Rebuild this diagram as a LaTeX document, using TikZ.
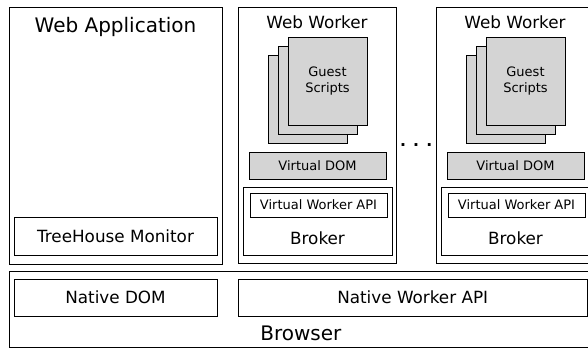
\documentclass[tikz,border=0pt]{standalone}
\usepackage{fontspec}
\setmainfont{DejaVu Sans}
\usepackage{tikz}
\usetikzlibrary{positioning}

\begin{document}
\begin{tikzpicture}[x=1pt,y=-1pt]
                \tikzset{box/.style = {draw, line width=0.9pt, inner sep=0pt}}
                \tikzset{page/.style = {box, fill=black!17, minimum width=79, minimum height=88}}
                \tikzset{big/.style = {font=\fontsize{20}{24}\selectfont}}
                \tikzset{mid/.style = {font=\fontsize{16.8}{20}\selectfont}}
                \tikzset{small/.style = {font=\fontsize{13}{16}\selectfont}}
                \tikzset{lbl/.style = {inner sep=0pt, anchor=base}}

                \useasboundingbox (0,0) rectangle (588,349);

                % web application
                \node[box, minimum width=213, minimum height=257] (webapp) at (115.5,135.5) {};
                \node[lbl, big] (webapptitle) at (115.5,32) {Web Application};
                \node[box, mid, minimum width=203, minimum height=38] (monitor) at (115.5,236) {TreeHouse Monitor};

                % first worker
                \node[box, minimum width=158, minimum height=256] (workerA) at (317,135) {};
                \node[lbl, mid] (workerAtitle) at (317,28.5) {Web Worker};
                \node[page] (pageAc) at (307.5,99.5) {};
                \node[page] (pageAb) at (318,90.5) {};
                \node[page, small, align=center] (pageAa) at (327.5,81) {Guest\\Scripts};
                \node[box, small, fill=black!17, minimum width=137, minimum height=27] (vdomA) at (317.5,165.5) {Virtual DOM};
                \node[box, minimum width=149, minimum height=68] (brokerA) at (317.5,221) {};
                \node[box, small, minimum width=137, minimum height=24] (vwaA) at (318.5,205) {Virtual Worker API};
                \node[lbl, mid] (brokerAtitle) at (317.5,244) {Broker};

                \node[lbl, font=\fontsize{15.6}{18}\selectfont\bfseries] (dots) at (416.2,146.7) {. . .};

                % second worker
                \node[box, minimum width=158, minimum height=256] (workerB) at (515,135) {};
                \node[lbl, mid] (workerBtitle) at (515,28.5) {Web Worker};
                \node[page] (pageBc) at (505.5,99.5) {};
                \node[page] (pageBb) at (516,90.5) {};
                \node[page, small, align=center] (pageBa) at (525.5,81) {Guest\\Scripts};
                \node[box, small, fill=black!17, minimum width=137, minimum height=27] (vdomB) at (515.5,165.5) {Virtual DOM};
                \node[box, minimum width=149, minimum height=68] (brokerB) at (515.5,221) {};
                \node[box, small, minimum width=137, minimum height=24] (vwaB) at (516.5,205) {Virtual Worker API};
                \node[lbl, mid] (brokerBtitle) at (515.5,244) {Broker};

                % browser
                \node[box, minimum width=589, minimum height=76.5] (browser) at (303.5,309.2) {};
                \node[box, mid, minimum width=203, minimum height=37] (nativedom) at (115.5,297.5) {Native DOM};
                \node[box, mid, minimum width=348.7, minimum height=37] (nativeapi) at (412.7,297.5) {Native Worker API};
                \node[lbl, big] (browsertitle) at (300.8,340) {Browser};

\end{tikzpicture}
\end{document}
